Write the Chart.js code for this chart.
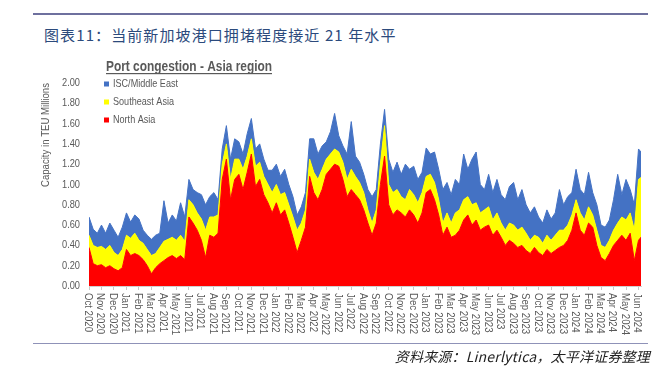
<!DOCTYPE html>
<html>
<head>
<meta charset="utf-8">
<script src="https://cdn.jsdelivr.net/npm/chart.js@4.4.1/dist/chart.umd.min.js"></script>
<style>
  html, body { margin: 0; padding: 0; background: #fff; }
  #wrap { position: relative; width: 661px; height: 374px; overflow: hidden; }
  #chart { position: absolute; left: 0; top: 0; }
  .rule { position: absolute; left: 33px; width: 615px; }
  #topRule { top: 13px; height: 2px; background: #6e709e; }
  #bottomRule { top: 343px; height: 1px; background: #8f92b8; }
  #title { position: absolute; left: 44px; top: 24px; font: 15px "Noto Sans CJK SC", sans-serif; color: #2c4a7c; letter-spacing: 1.1px; white-space: nowrap; }
  #source { position: absolute; right: 11px; top: 346px; font: italic 14px "Noto Sans CJK SC", sans-serif; color: #222; letter-spacing: 0.2px; white-space: nowrap; }
</style>
</head>
<body>
<div id="wrap">
  <div id="topRule" class="rule"></div>
  <div id="title">图表11：当前新加坡港口拥堵程度接近 21 年水平</div>
  <canvas id="chart" width="661" height="374"></canvas>
  <div id="bottomRule" class="rule"></div>
  <div id="source">资料来源：Linerlytica，太平洋证券整理</div>
</div>
<script>
// month tick labels, Oct 2020 .. Jun 2024
const months = [
  'Oct 2020', 'Nov 2020', 'Dec 2020',
  'Jan 2021', 'Feb 2021', 'Mar 2021', 'Apr 2021', 'May 2021', 'Jun 2021',
  'Jul 2021', 'Aug 2021', 'Sep 2021', 'Oct 2021', 'Nov 2021', 'Dec 2021',
  'Jan 2022', 'Feb 2022', 'Mar 2022', 'Apr 2022', 'May 2022', 'Jun 2022',
  'Jul 2022', 'Aug 2022', 'Sep 2022', 'Oct 2022', 'Nov 2022', 'Dec 2022',
  'Jan 2023', 'Feb 2023', 'Mar 2023', 'Apr 2023', 'May 2023', 'Jun 2023',
  'Jul 2023', 'Aug 2023', 'Sep 2023', 'Oct 2023', 'Nov 2023', 'Dec 2023',
  'Jan 2024', 'Feb 2024', 'Mar 2024', 'Apr 2024', 'May 2024', 'Jun 2024'
];

const seriesNames = ['North Asia', 'Southeast Asia', 'ISC/Middle East'];
const seriesColors = ['#ff0000', '#ffff00', '#4472c4'];

// capacity in TEU millions, three readings per month starting Oct 2020
const northAsia = [
  .38, .22, .20, .21, .18, .20, .17, .15, .18,
  .36, .30, .32, .30, .26, .20, .12, .18, .22,
  .25, .28, .30, .27, .30, .26, .68, .62, .55,
  .45, .28, .50, .48, .52, 1.05, 1.25, .85, 1.05,
  1.10, .95, 1.12, 1.30, .98, 1.05, .90, .82, .72,
  .82, .70, .75, .62, .48, .33, .45, .58, 1.08,
  .92, .85, .95, 1.10, 1.15, 1.20, 1.18, 1.05, .88,
  .95, .90, .85, .75, .62, .50, .62, 1.00, 1.28,
  .80, .70, .75, .72, .68, .75, .70, .62, .72,
  .92, .95, .85, .70, .50, .58, .48, .50, .55,
  .65, .70, .60, .65, .55, .58, .60, .50, .55,
  .48, .40, .45, .42, .38, .40, .35, .32, .38,
  .33, .30, .36, .32, .35, .38, .40, .45, .55,
  .72, .55, .50, .62, .58, .40, .28, .25, .32,
  .40, .45, .50, .45, .52, .25, .45, .50
];

const southeastAsia = [
  .12, .18, .18, .18, .18, .20, .16, .15, .18,
  .14, .17, .20, .15, .16, .16, .18, .14, .16,
  .19, .18, .18, .18, .20, .18, .17, .18, .17,
  .21, .27, .18, .20, .18, .15, .15, .20, .20,
  .15, .20, .16, .15, .20, .17, .18, .18, .20,
  .18, .20, .17, .18, .20, .22, .17, .17, .17,
  .20, .20, .20, .15, .15, .15, .14, .17, .17,
  .20, .18, .17, .17, .13, .12, .13, .20, .30,
  .20, .22, .20, .16, .17, .20, .20, .20, .20,
  .16, .15, .17, .15, .12, .14, .14, .22, .20,
  .20, .18, .20, .17, .17, .17, .18, .15, .17,
  .14, .15, .17, .18, .17, .18, .17, .13, .12,
  .15, .12, .14, .13, .15, .17, .15, .15, .15,
  .13, .17, .15, .16, .12, .15, .12, .13, .13,
  .15, .17, .18, .20, .20, .30, .60, .58
];

const iscMiddleEast = [
  .18, .16, .14, .21, .16, .22, .22, .18, .22,
  .22, .16, .18, .21, .13, .14, .16, .18, .14,
  .40, .16, .22, .19, .32, .24, .20, .15, .20,
  .24, .25, .20, .24, .15, .15, .18, .20, .20,
  .17, .15, .22, .20, .17, .18, .17, .14, .22,
  .20, .18, .23, .20, .20, .15, .16, .17, .20,
  .33, .25, .23, .17, .22, .35, .16, .16, .25,
  .47, .20, .20, .18, .20, .26, .20, .20, .16,
  .25, .20, .27, .22, .35, .20, .28, .23, .20,
  .28, .20, .30, .30, .33, .30, .28, .33, .25,
  .45, .27, .45, .50, .28, .20, .32, .27, .33,
  .28, .30, .36, .42, .30, .37, .28, .27, .28,
  .20, .20, .25, .21, .22, .40, .25, .28, .22,
  .30, .23, .25, .34, .22, .25, .20, .20, .20,
  .30, .48, .22, .40, .23, .25, .30, .22
];

const yTicks = [0, 0.2, 0.4, 0.6, 0.8, 1.0, 1.2, 1.4, 1.6, 1.8, 2.0];

const baseFont = '"Liberation Sans", Arial, sans-serif';
const grey = '#595959';

function toPoints(values) {
  return values.map((v, i) => ({ x: i / 3, y: v }));
}

// squeeze text sideways so it looks like the condensed face of the original
function narrowText(ctx, text, x, y, squeeze) {
  ctx.save();
  ctx.translate(x, y);
  ctx.scale(squeeze, 1);
  ctx.fillText(text, 0, 0);
  ctx.restore();
}

const decor = {
  id: 'decor',
  afterDraw(chart) {
    const { ctx, chartArea } = chart;
    const xs = chart.scales.x;
    const ys = chart.scales.y;
    ctx.save();
    ctx.fillStyle = grey;

    // y tick labels
    ctx.font = '11px ' + baseFont;
    ctx.textAlign = 'right';
    ctx.textBaseline = 'middle';
    yTicks.forEach(v => {
      narrowText(ctx, v.toFixed(2), 80, ys.getPixelForValue(v), 0.84);
    });

    // month labels, turned clockwise
    ctx.textAlign = 'left';
    const sq = 39 / ctx.measureText('Oct 2020').width;
    months.forEach((label, i) => {
      ctx.save();
      ctx.translate(xs.getPixelForValue(i) - 1, chartArea.bottom + 7);
      ctx.rotate(Math.PI / 2);
      narrowText(ctx, label, 0, 0, sq);
      ctx.restore();
    });

    // axis title
    ctx.save();
    ctx.translate(46, 135);
    ctx.rotate(-Math.PI / 2);
    ctx.textAlign = 'center';
    ctx.font = '11px ' + baseFont;
    narrowText(ctx, 'Capacity in TEU Millions', 0, 0, 104 / ctx.measureText('Capacity in TEU Millions').width);
    ctx.restore();

    // chart title with underline
    const title = 'Port congestion - Asia region';
    ctx.font = 'bold 15px ' + baseFont;
    ctx.textAlign = 'left';
    ctx.textBaseline = 'alphabetic';
    narrowText(ctx, title, 106, 71, 166 / ctx.measureText(title).width);
    ctx.fillRect(106, 73, 166, 1.2);

    // legend
    ctx.font = '11px ' + baseFont;
    ctx.textBaseline = 'middle';
    const legSq = 65 / ctx.measureText('ISC/Middle East').width;
    const legendY = [120, 102, 84];
    seriesNames.forEach((name, i) => {
      ctx.fillStyle = seriesColors[i];
      ctx.fillRect(104, legendY[i] - 2.5, 5, 5);
      ctx.fillStyle = grey;
      narrowText(ctx, name, 113, legendY[i], legSq);
    });

    ctx.restore();
  }
};

const datasets = [northAsia, southeastAsia, iscMiddleEast].map((values, i) => ({
  label: seriesNames[i],
  data: toPoints(values),
  backgroundColor: seriesColors[i],
  borderColor: seriesColors[i],
  borderWidth: 1,
  pointRadius: 0,
  tension: 0,
  fill: i === 0 ? 'origin' : '-1'
}));

new Chart(document.getElementById('chart'), {
  type: 'line',
  data: { datasets: datasets },
  options: {
    responsive: false,
    animation: false,
    layout: { padding: { top: 83, right: 20, left: 0, bottom: 0 } },
    plugins: { legend: { display: false }, tooltip: { enabled: false } },
    scales: {
      x: {
        type: 'linear',
        min: 0,
        max: 44.2,
        afterFit: s => { s.height = 88; },
        ticks: { display: false, stepSize: 1, includeBounds: false },
        grid: { display: true, drawOnChartArea: false, drawTicks: true, tickLength: 4, color: '#c8c8c8' },
        border: { display: true, color: '#d0d0d0' }
      },
      y: {
        stacked: true,
        min: 0,
        max: 2,
        afterFit: s => { s.width = 89; },
        ticks: { display: false, stepSize: 0.2 },
        grid: { display: false, drawTicks: false },
        border: { display: false }
      }
    }
  },
  plugins: [decor]
});
</script>
</body>
</html>
